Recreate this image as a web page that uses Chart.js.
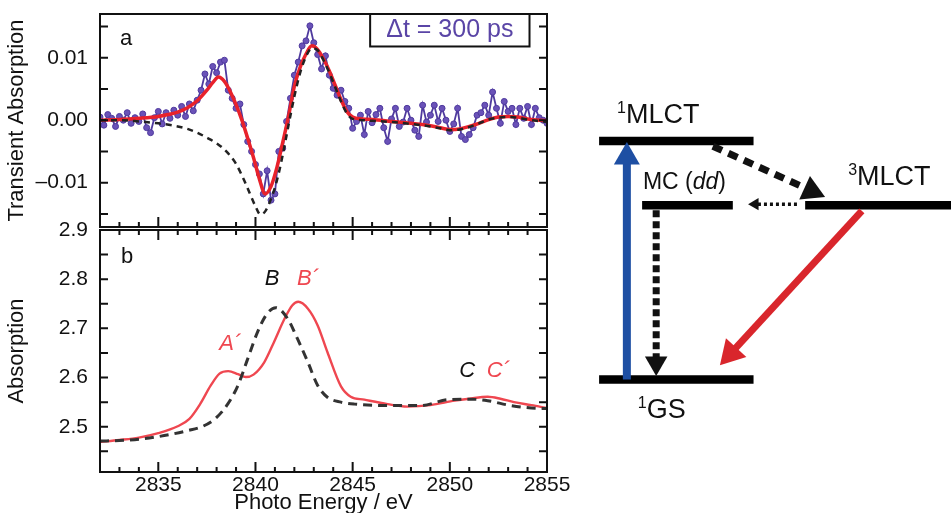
<!DOCTYPE html>
<html>
<head>
<meta charset="utf-8">
<script src="https://cdn.jsdelivr.net/npm/chart.js"></script>
<style>
  body { margin: 0; background: #fff; }
  #wrap { position: relative; width: 951px; height: 513px; overflow: hidden; }
  canvas { position: absolute; top: 0; }
</style>
</head>
<body>
<div id="wrap">
  <canvas id="panelA" width="580" height="232" style="left:0"></canvas>
  <canvas id="panelB" width="580" height="513" style="left:0"></canvas>
  <canvas id="scheme" width="391" height="513" style="left:560px"></canvas>
</div>
<script>
// ---- panel a : transient absorption at 300 ps (values in units of 1e-3) ----
const taEnergy = [
  2832.0, 2832.2, 2832.4, 2832.6, 2832.8, 2833.0, 2833.2, 2833.4, 2833.6, 2833.8,
  2834.0, 2834.2, 2834.4, 2834.6, 2834.8, 2835.0, 2835.2, 2835.4, 2835.6, 2835.8,
  2836.0, 2836.2, 2836.4, 2836.6, 2836.8, 2837.0, 2837.2, 2837.4, 2837.6, 2837.8,
  2838.0, 2838.2, 2838.4, 2838.6, 2838.8, 2839.0, 2839.2, 2839.4, 2839.6, 2839.8,
  2840.0, 2840.2, 2840.4, 2840.6, 2840.8, 2841.0, 2841.2, 2841.4, 2841.6, 2841.8,
  2842.0, 2842.2, 2842.4, 2842.6, 2842.8, 2843.0, 2843.2, 2843.4, 2843.6, 2843.8,
  2844.0, 2844.2, 2844.4, 2844.6, 2844.8, 2845.0, 2845.2, 2845.4, 2845.6, 2845.8,
  2846.0, 2846.2, 2846.4, 2846.6, 2846.8, 2847.0, 2847.2, 2847.4, 2847.6, 2847.8,
  2848.0, 2848.2, 2848.4, 2848.6, 2848.8, 2849.0, 2849.2, 2849.4, 2849.6, 2849.8,
  2850.0, 2850.2, 2850.4, 2850.6, 2850.8, 2851.0, 2851.2, 2851.4, 2851.6, 2851.8,
  2852.0, 2852.2, 2852.4, 2852.6, 2852.8, 2853.0, 2853.2, 2853.4, 2853.6, 2853.8,
  2854.0, 2854.2, 2854.4, 2854.6, 2854.8, 2855.0
];
const taSignal = [
  0.5, -0.8, 0.9, 0.3, -1.0, 0.6, 0.0, 1.2, -0.5, 0.4,
  -0.2, 1.0, -1.2, -2.0, 0.4, 1.4, -0.6, 1.2, 0.3, 1.6,
  0.8, 2.2, 0.6, 2.6, 1.5, 3.2, 4.8, 7.4, 5.8, 8.6,
  7.6, 9.3, 9.6, 4.8, 3.5, 1.9, 2.6, -0.7, -3.4, -5.0,
  -7.1, -8.6, -11.8, -8.1, -12.8, -11.8, -5.0, -4.5, -0.2, 3.5,
  7.2, 9.3, 11.9, 12.7, 15.1, 12.4, 10.5, 8.2, 10.3, 7.2,
  5.1, 4.0, 4.8, 3.0, 1.9, -1.3, -0.2, 0.8, -2.3, 1.4,
  -0.4, 0.9, 1.9, -1.2, -3.4, 0.2, 1.9, -1.0, -0.3, 1.9,
  0.0, -1.6, -2.6, 2.4, -0.3, 0.8, 2.4, -0.2, 1.9, 0.0,
  -1.8, -0.6, 1.9, -2.6, -3.1, -2.3, -1.2, 0.8, 1.2, 2.4,
  0.8, 4.5, 1.9, -0.5, 3.0, 1.4, 1.9, -0.7, 1.9, 0.3,
  2.2, -0.7, 1.9, 0.4, 0.0, -0.5
];
const fitEnergy = [2832, 2833, 2834, 2835, 2835.5, 2836, 2836.5, 2837, 2837.5, 2837.8, 2838.1, 2838.4, 2838.7, 2839.0,
  2839.3, 2839.6, 2839.9, 2840.2, 2840.5, 2840.8, 2841.1, 2841.4, 2841.7, 2842.0, 2842.3, 2842.6, 2842.9, 2843.2,
  2843.5, 2843.8, 2844.1, 2844.4, 2844.7, 2845.0, 2845.5, 2846, 2847, 2848, 2849, 2849.5, 2850, 2850.5, 2851,
  2851.5, 2852, 2852.5, 2853, 2853.5, 2854, 2855];
const fitSignal = [0.0, 0.1, 0.3, 0.6, 0.9, 1.3, 2.0, 3.1, 4.8, 6.0, 6.9, 6.2, 4.6, 2.5,
  0.0, -2.9, -6.0, -9.4, -11.8, -10.6, -7.6, -3.6, 0.6, 5.4, 8.5, 10.6, 11.9, 11.3,
  9.8, 7.9, 5.6, 3.3, 1.4, 0.5, 0.2, 0.1, -0.2, -0.5, -0.9, -1.2, -1.5, -1.4, -1.0,
  -0.5, 0.1, 0.5, 0.6, 0.5, 0.2, -0.1];
const refEnergy = [2832, 2833, 2834, 2835, 2836, 2836.5, 2837, 2837.5, 2838, 2838.5, 2839, 2839.5, 2840, 2840.25,
  2840.5, 2840.8, 2841.1, 2841.4, 2841.7, 2842.0, 2842.3, 2842.6, 2842.9, 2843.2, 2843.5, 2843.8, 2844.1, 2844.4,
  2844.7, 2845.0, 2845.5, 2846, 2847, 2848, 2849, 2849.5, 2850, 2850.5, 2851, 2851.5, 2852, 2852.5, 2853, 2853.5,
  2854, 2855];
const refSignal = [0.0, 0.0, -0.2, -0.5, -1.0, -1.4, -2.0, -2.8, -3.7, -5.0, -7.0, -10.2, -13.8, -15.1,
  -14.6, -12.6, -9.7, -5.6, -0.8, 3.8, 7.6, 10.2, 11.5, 11.2, 9.6, 7.6, 5.3, 3.0,
  1.1, 0.2, 0.0, -0.1, -0.3, -0.6, -1.0, -1.3, -1.6, -1.5, -1.1, -0.5, 0.1, 0.4, 0.5, 0.4,
  0.1, -0.3];

// ---- panel b : static absorption ----
const excEnergy = [2832.0, 2833.0, 2834.0, 2835.0, 2836.0, 2836.6, 2837.15, 2837.7, 2838.15, 2838.6, 2839.1, 2839.5,
  2839.9, 2840.45, 2840.95, 2841.5, 2841.9, 2842.2, 2842.7, 2843.2, 2843.7, 2844.4, 2844.9, 2845.6, 2846.8,
  2847.8, 2849.0, 2850.25, 2851.0, 2851.95, 2852.6, 2853.3, 2854.2, 2855.0];
const excAbs = [2.469, 2.473, 2.478, 2.487, 2.501, 2.516, 2.546, 2.584, 2.608, 2.613, 2.607, 2.601,
  2.606, 2.631, 2.672, 2.720, 2.747, 2.754, 2.740, 2.706, 2.652, 2.582, 2.561, 2.555, 2.546,
  2.541, 2.544, 2.553, 2.557, 2.561, 2.557, 2.550, 2.544, 2.538];
const gsEnergy = [2832.0, 2833.0, 2834.1, 2835.3, 2836.5, 2837.35, 2838.0, 2838.57, 2839.1, 2839.6, 2840.1, 2840.6,
  2841.05, 2841.65, 2842.16, 2842.7, 2843.2, 2843.7, 2844.4, 2845.1, 2846.8, 2848.5, 2849.9, 2851.1, 2851.95,
  2853.15, 2854.85, 2855.0];
const gsAbs = [2.471, 2.472, 2.475, 2.482, 2.492, 2.502, 2.519, 2.546, 2.584, 2.638, 2.692, 2.730,
  2.742, 2.720, 2.679, 2.631, 2.584, 2.560, 2.550, 2.546, 2.543, 2.543, 2.555, 2.556, 2.553,
  2.543, 2.537, 2.537];

// ---- tick values ----
const energyTicks = [2835, 2840, 2845, 2850, 2855];
const taTicks = [-10, 0, 10];
const taTickMarks = [-15, -10, -5, 0, 5, 10, 15];
const absTicks = [2.5, 2.6, 2.7, 2.8, 2.9];
const absTickMarks = [2.45, 2.5, 2.55, 2.6, 2.65, 2.7, 2.75, 2.8, 2.85];

// ---- energy level scheme (arbitrary units) ----
const levelNames = ['1MLCT', 'MC', '3MLCT', '1GS'];
const levelEnergy = [7.25, 6.0, 6.0, 2.6];
const levelStart = [1.0, 2.1, 6.27, 1.0];
const levelEnd = [4.95, 4.42, 10.2, 4.95];
const arrowNames = ['excitation', 'MC decay', 'ISC', 'MLCT to MC', 'MLCT decay'];
const arrowFrom = [[1.71, 2.6], [2.46, 5.9], [3.91, 7.15], [6.06, 6.02], [7.72, 5.89]];
const arrowTo = [[1.71, 7.23], [2.46, 2.67], [6.78, 6.16], [4.81, 6.02], [4.09, 2.88]];

const FONT = '"Liberation Sans", Arial, Helvetica, sans-serif';
const xy = (xs, ys) => xs.map((x, i) => ({x: x, y: ys[i]}));
const noPad = s => { s.paddingTop = 0; s.paddingBottom = 0; s.paddingLeft = 0; s.paddingRight = 0; };

// plot frame and inward tick marks
const framePlugin = {
  id: 'frame',
  afterDatasetsDraw(chart, args, opts) {
    const {ctx, chartArea: a, scales: {x, y}} = chart;
    ctx.save();
    ctx.strokeStyle = '#111';
    ctx.lineWidth = 2;
    ctx.strokeRect(a.left, a.top, a.right - a.left, a.bottom - a.top);
    ctx.beginPath();
    for (const v of opts.yMarks) {
      const p = y.getPixelForValue(v);
      ctx.moveTo(a.left, p); ctx.lineTo(a.left + 8, p);
      ctx.moveTo(a.right, p); ctx.lineTo(a.right - 8, p);
    }
    for (let e = Math.ceil(x.min); e <= x.max; e++) {
      const p = x.getPixelForValue(e);
      const len = e % 5 === 0 ? 10 : 5;
      if (opts.top) { ctx.moveTo(p, a.top); ctx.lineTo(p, a.top + len); }
      if (opts.bottom) { ctx.moveTo(p, a.bottom); ctx.lineTo(p, a.bottom - len); }
    }
    ctx.stroke();
    ctx.restore();
  }
};

// text labels placed in data coordinates
const notesPlugin = {
  id: 'notes',
  afterDatasetsDraw(chart, args, opts) {
    const {ctx, scales: {x, y}} = chart;
    ctx.save();
    for (const n of opts.items) {
      if (n.box) {
        const x0 = x.getPixelForValue(n.box[0]), x1 = x.getPixelForValue(n.box[1]);
        const y0 = y.getPixelForValue(n.box[2]), y1 = y.getPixelForValue(n.box[3]);
        ctx.fillStyle = '#fff';
        ctx.fillRect(x0, y0, x1 - x0, y1 - y0);
        ctx.strokeStyle = '#111';
        ctx.lineWidth = 2;
        ctx.strokeRect(x0, y0, x1 - x0, y1 - y0);
      }
      ctx.font = (n.italic ? 'italic ' : '') + n.size + 'px ' + FONT;
      ctx.fillStyle = n.color;
      ctx.textAlign = 'center';
      ctx.textBaseline = 'middle';
      ctx.fillText(n.text, x.getPixelForValue(n.x), y.getPixelForValue(n.y));
    }
    ctx.restore();
  }
};

const tickFont = {family: FONT, size: 21};
const titleFont = {family: FONT, size: 22};

new Chart(document.getElementById('panelA'), {
  type: 'line',
  data: {
    datasets: [
      {data: xy(refEnergy, refSignal), borderColor: '#222', borderWidth: 2.5, borderDash: [6, 5],
       pointRadius: 0, cubicInterpolationMode: 'monotone'},
      {data: xy(fitEnergy, fitSignal), borderColor: '#e8222b', borderWidth: 3.5,
       pointRadius: 0, cubicInterpolationMode: 'monotone'},
      {data: xy(taEnergy, taSignal), borderColor: '#4f3a9e', borderWidth: 1.8, pointRadius: 3,
       pointBackgroundColor: '#6a52b8', pointBorderColor: '#4f3a9e', pointBorderWidth: 1}
    ]
  },
  options: {
    responsive: false,
    animation: false,
    layout: {padding: {top: 14, right: 33, bottom: 2, left: 0}},
    plugins: {
      legend: {display: false},
      tooltip: {enabled: false},
      frame: {yMarks: taTickMarks, top: false, bottom: true},
      notes: {items: [
        {text: 'a', x: 2833.35, y: 13.0, size: 22, color: '#111'},
        {text: '\u0394t = 300 ps', x: 2850.0, y: 14.4, size: 25, color: '#5a45a6', box: [2845.9, 2854.1, 17.0, 11.8]}
      ]}
    },
    scales: {
      x: {
        type: 'linear', min: 2832, max: 2855,
        afterFit(s) { s.height = 0; noPad(s); },
        ticks: {display: false},
        grid: {display: false, drawTicks: false},
        border: {display: false}
      },
      y: {
        min: -17.1, max: 17.0,
        afterFit(s) { s.width = 100; noPad(s); },
        afterBuildTicks(s) { s.ticks = taTicks.map(v => ({value: v})); },
        grid: {display: false, drawTicks: false},
        border: {display: false},
        ticks: {font: tickFont, color: '#111', padding: 12,
          callback: v => v === 0 ? '0.00' : (v < 0 ? '\u2013' : '') + Math.abs(v / 1000).toFixed(2)},
        title: {display: true, text: 'Transient Absorption', font: titleFont, color: '#111'}
      }
    }
  },
  plugins: [framePlugin, notesPlugin]
});

new Chart(document.getElementById('panelB'), {
  type: 'line',
  data: {
    datasets: [
      {data: xy(gsEnergy, gsAbs), borderColor: '#333', borderWidth: 3, borderDash: [9, 6],
       pointRadius: 0, cubicInterpolationMode: 'monotone'},
      {data: xy(excEnergy, excAbs), borderColor: '#ef4750', borderWidth: 2.4,
       pointRadius: 0, cubicInterpolationMode: 'monotone'}
    ]
  },
  options: {
    responsive: false,
    animation: false,
    layout: {padding: {top: 230, right: 33, bottom: 0, left: 0}},
    plugins: {
      legend: {display: false},
      tooltip: {enabled: false},
      frame: {yMarks: absTickMarks, top: true, bottom: true},
      notes: {items: [
        {text: 'b', x: 2833.4, y: 2.845, size: 22, color: '#111'},
        {text: 'B', x: 2840.85, y: 2.80, size: 22, color: '#111', italic: true},
        {text: 'B\u00b4', x: 2842.7, y: 2.80, size: 22, color: '#ef4750', italic: true},
        {text: 'A\u00b4', x: 2838.7, y: 2.669, size: 22, color: '#ef4750', italic: true},
        {text: 'C', x: 2850.9, y: 2.614, size: 22, color: '#111', italic: true},
        {text: 'C\u00b4', x: 2852.5, y: 2.614, size: 22, color: '#ef4750', italic: true}
      ]}
    },
    scales: {
      x: {
        type: 'linear', min: 2832, max: 2855,
        afterFit(s) { s.height = 41; noPad(s); },
        afterBuildTicks(s) { s.ticks = energyTicks.map(v => ({value: v})); },
        grid: {display: false, drawTicks: false},
        border: {display: false},
        ticks: {font: tickFont, color: '#111', padding: 1, maxRotation: 0, autoSkip: false, callback: v => String(v)},
        title: {display: true, text: 'Photo Energy / eV', font: titleFont, color: '#111', padding: {top: 0, bottom: -3}}
      },
      y: {
        min: 2.408, max: 2.9,
        afterFit(s) { s.width = 100; noPad(s); },
        afterBuildTicks(s) { s.ticks = absTicks.map(v => ({value: v})); },
        grid: {display: false, drawTicks: false},
        border: {display: false},
        ticks: {font: tickFont, color: '#111', padding: 12, callback: v => v.toFixed(1)},
        title: {display: true, text: 'Absorption', font: titleFont, color: '#111'}
      }
    }
  },
  plugins: [framePlugin, notesPlugin]
});

// ---- energy level scheme ----
const arrowStyle = [
  {color: '#1e4fa3', width: 8, dash: [], head: 15},
  {color: '#111', width: 7, dash: [7, 4], head: 13},
  {color: '#111', width: 7, dash: [10, 7], head: 15},
  {color: '#111', width: 3.5, dash: [3, 3], head: 7},
  {color: '#d9262c', width: 7, dash: [], head: 16}
];
const levelLabels = [
  {parts: [{t: '1', sup: true}, {t: 'MLCT'}], x: 1.46, y: 7.6, size: 27},
  {parts: [{t: 'MC ('}, {t: 'dd', italic: true}, {t: ')'}], x: 2.12, y: 6.32, size: 23},
  {parts: [{t: '3', sup: true}, {t: 'MLCT'}], x: 7.37, y: 6.39, size: 27},
  {parts: [{t: '1', sup: true}, {t: 'GS'}], x: 1.99, y: 1.85, size: 27}
];

const schemePlugin = {
  id: 'scheme',
  afterDatasetsDraw(chart) {
    const {ctx, scales: {x, y}} = chart;
    ctx.save();
    arrowFrom.forEach((f, i) => {
      const s = arrowStyle[i];
      const x0 = x.getPixelForValue(f[0]), y0 = y.getPixelForValue(f[1]);
      const x1 = x.getPixelForValue(arrowTo[i][0]), y1 = y.getPixelForValue(arrowTo[i][1]);
      const len = Math.hypot(x1 - x0, y1 - y0);
      const ux = (x1 - x0) / len, uy = (y1 - y0) / len;
      const r = s.head;
      const cx = x1 - ux * r, cy = y1 - uy * r;
      ctx.strokeStyle = s.color;
      ctx.fillStyle = s.color;
      ctx.lineWidth = s.width;
      ctx.lineCap = 'butt';
      ctx.setLineDash(s.dash);
      ctx.beginPath();
      ctx.moveTo(x0, y0);
      ctx.lineTo(cx, cy);
      ctx.stroke();
      ctx.setLineDash([]);
      // triangular head: tip at arrow end, base r/2 behind centre
      const bx = x1 - ux * r * 1.5, by = y1 - uy * r * 1.5;
      const hw = r * Math.sqrt(3) / 2;
      ctx.beginPath();
      ctx.moveTo(x1, y1);
      ctx.lineTo(bx - uy * hw, by + ux * hw);
      ctx.lineTo(bx + uy * hw, by - ux * hw);
      ctx.closePath();
      ctx.fill();
    });
    ctx.fillStyle = '#111';
    ctx.textBaseline = 'alphabetic';
    ctx.textAlign = 'left';
    for (const l of levelLabels) {
      let px = x.getPixelForValue(l.x);
      const py = y.getPixelForValue(l.y);
      for (const p of l.parts) {
        const size = p.sup ? Math.round(l.size * 0.6) : l.size;
        ctx.font = (p.italic ? 'italic ' : '') + size + 'px ' + FONT;
        ctx.fillText(p.t, px, p.sup ? py - l.size * 0.36 : py);
        px += ctx.measureText(p.t).width;
      }
    }
    ctx.restore();
  }
};

new Chart(document.getElementById('scheme'), {
  type: 'scatter',
  data: {
    datasets: levelNames.map((name, i) => ({
      label: name,
      data: [{x: levelStart[i], y: levelEnergy[i]}, {x: levelEnd[i], y: levelEnergy[i]}],
      showLine: true, borderColor: '#000', borderWidth: 8.5, borderCapStyle: 'butt', pointRadius: 0
    }))
  },
  options: {
    responsive: false,
    animation: false,
    layout: {padding: 0},
    plugins: {legend: {display: false}, tooltip: {enabled: false}},
    scales: {
      x: {type: 'linear', min: 0, max: 10, display: false},
      y: {type: 'linear', min: 0, max: 10, display: false}
    }
  },
  plugins: [schemePlugin]
});
</script>
</body>
</html>
